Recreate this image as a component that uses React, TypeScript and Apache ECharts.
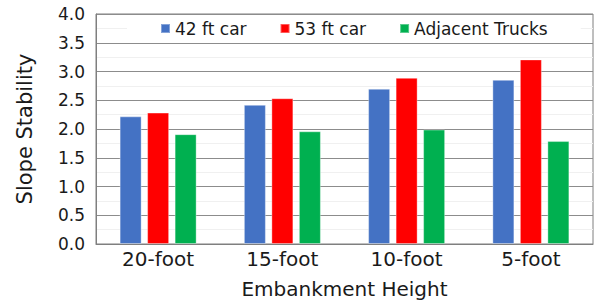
import React, { useEffect, useRef } from "react";
import * as echarts from "echarts";

const categories = ["20-foot", "15-foot", "10-foot", "5-foot"];
const car42 = [2.22, 2.42, 2.7, 2.855];
const car53 = [2.285, 2.535, 2.89, 3.21];
const trucks = [1.91, 1.96, 1.99, 1.79];
const yTicks = { min: 0, max: 4, interval: 0.5 };

export default function App() {
  const ref = useRef<HTMLDivElement>(null);
  useEffect(() => {
    const chart = echarts.init(ref.current!, undefined, { renderer: "svg" });
    const font = "DejaVu Sans, sans-serif";
    const mk = (name: string, data: number[], color: string) => ({
      name,
      type: "bar",
      data,
      barWidth: 22,
      barGap: "25%",
      itemStyle: { color, borderColor: "rgba(255,255,255,0.35)", borderWidth: 1 },
    });
    chart.setOption({
      animation: false,
      textStyle: { fontFamily: font },
      grid: { left: 96, right: 1, top: 14, bottom: 56, show: true, borderColor: "#7f7f7f", borderWidth: 1, backgroundColor: "transparent" },
      legend: {
        top: 18,
        left: 127,
        itemWidth: 9,
        itemHeight: 9,
        itemGap: 33,
        icon: "rect",
        backgroundColor: "#fff",
        padding: [2, 33],
        textStyle: { fontSize: 17, color: "#1a1a1a", fontFamily: font },
        data: ["42 ft car", "53 ft car", "Adjacent Trucks"],
      },
      xAxis: {
        type: "category",
        data: categories,
        name: "Embankment Height",
        nameLocation: "middle",
        nameGap: 35,
        nameTextStyle: { fontSize: 20, color: "#1a1a1a", fontFamily: font },
        axisLine: { lineStyle: { color: "#7f7f7f" } },
        axisTick: { show: false },
        axisLabel: { fontSize: 20, color: "#1a1a1a", margin: 5, fontFamily: font },
      },
      yAxis: {
        type: "value",
        min: yTicks.min,
        max: yTicks.max,
        interval: yTicks.interval,
        name: "Slope Stability",
        nameLocation: "middle",
        nameGap: 61,
        nameTextStyle: { fontSize: 21, color: "#1a1a1a", fontFamily: font },
        axisLine: { show: true, lineStyle: { color: "#7f7f7f" } },
        axisTick: { show: false },
        axisLabel: { fontSize: 17, color: "#1a1a1a", margin: 11, fontFamily: font, formatter: (v: number) => v.toFixed(1) },
        splitLine: { lineStyle: { color: "#8c8c8c" } },
        minorSplitLine: { show: true, lineStyle: { color: "#f0f0f0" } },
        minorTick: { splitNumber: 2 },
      },
      series: [mk("42 ft car", car42, "#4472C4"), mk("53 ft car", car53, "#FF0000"), mk("Adjacent Trucks", trucks, "#00B050")],
    });
    return () => chart.dispose();
  }, []);
  return <div ref={ref} style={{ position: "fixed", left: 0, top: 0, width: 594, height: 304, background: "#fff" }} />;
}
